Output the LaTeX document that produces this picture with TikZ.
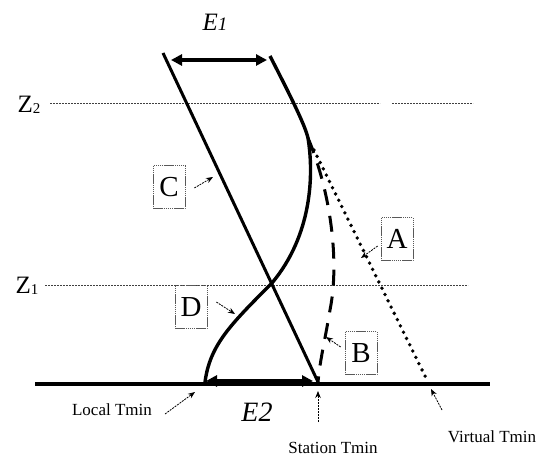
\documentclass[tikz,border=0pt]{standalone}
\usepackage{fontspec}
\setmainfont{Liberation Serif}
\usetikzlibrary{arrows.meta}
\begin{document}
\begin{tikzpicture}[x=1pt,y=-1pt,
  lbl/.style={draw=black!65, line width=0.7pt, dash pattern=on 1.5pt off 0.6pt, minimum width=32pt, minimum height=43pt, inner sep=0pt, font=\fontsize{29}{29}\selectfont},
  ptr/.style={-{Stealth[length=7pt,width=5.5pt]}, line width=0.8pt, dash pattern=on 2pt off 1pt},
  zline/.style={line width=0.8pt, dash pattern=on 2pt off 1pt, black!75},
  dbl/.style={{Triangle[length=11pt,width=11pt]}-{Triangle[length=11pt,width=11pt]}, line width=4pt},
  heavy/.style={line width=3pt},
  small/.style={font=\fontsize{17}{17}\selectfont, inner sep=0pt},
  big/.style={font=\fontsize{25}{25}\selectfont\itshape, inner sep=0pt}]
\useasboundingbox (0,0) rectangle (540,457);

% level labels and lines
\node[inner sep=0pt, font=\fontsize{25}{25}\selectfont] (Z2) at (29,105) {Z\raisebox{-1pt}{\fontsize{15}{15}\selectfont 2}};
\node[inner sep=0pt, font=\fontsize{25}{25}\selectfont] (Z1) at (27,286) {Z\raisebox{-1pt}{\fontsize{15}{15}\selectfont 1}};
\draw[zline] (50,103) -- (380,103);
\draw[zline] (392,103) -- (473,103);
\draw[zline] (45,285) -- (468,285);

% ground
\draw[line width=4.5pt] (35,384) -- (490,384);

% key points
\coordinate (Ctop) at (163,53);
\coordinate (Cbot) at (318,382);
\coordinate (Dtop) at (270,56);
\coordinate (split) at (308,138);
\coordinate (Dbot) at (205,382);
\coordinate (Abot) at (426,378);

% line C
\draw[heavy] (Ctop) -- (Cbot);
% curve D
\draw[line width=3.4pt] (Dtop) .. controls (290,95) and (305,125) .. (split)
  .. controls (314,175) and (312,235) .. (272,283)
  .. controls (230,325) and (210,345) .. (Dbot);
% dotted A
\draw[line width=3.8pt, line cap=round, dash pattern=on 0pt off 7pt] (split) ++(6,12) -- (Abot);
% dashed B
\draw[line width=3pt, dash pattern=on 16pt off 11pt] (split) .. controls (330,190) and (340,260) .. (330,310)
  .. controls (325,340) and (320,360) .. (Cbot);

% E1 and E2 arrows
\draw[dbl] (171,60) -- (267,60);
\draw[dbl] (206,381) -- (313,381);
\node[big] (E1) at (215,22) {E\fontsize{19}{19}\selectfont 1};
\node[big, font=\fontsize{28}{28}\selectfont\itshape] (E2) at (257,412) {E2};

% boxed labels
\node[lbl] (C) at (169,187) {C};
\node[lbl] (A) at (397,239) {A};
\node[lbl] (D) at (191,307) {D};
\node[lbl] (B) at (361,353) {B};
\coordinate (Ct) at (213,177);
\coordinate (At) at (361,258);
\coordinate (Dt) at (235,314);
\coordinate (Bt) at (326,337);
\draw[ptr] (C.east) ++(9,1) -- (Ct);
\draw[ptr] (A.west) ++(-3,7) -- (At);
\draw[ptr] (D.east) ++(9,-5) -- (Dt);
\draw[ptr] (B.west) ++(-4,-6) -- (Bt);

% bottom labels
\node[small] (LT) at (112,410) {Local Tmin};
\node[small] (ST) at (333,448) {Station Tmin};
\node[small] (VT) at (492,437) {Virtual Tmin};
\coordinate (LTt) at (195,392);
\coordinate (STt) at (318,391);
\coordinate (VTt) at (431,389);
\draw[ptr] (165,414) -- (LTt);
\draw[ptr] (318,422) -- (STt);
\draw[ptr] (442,410) -- (VTt);
\end{tikzpicture}
\end{document}
